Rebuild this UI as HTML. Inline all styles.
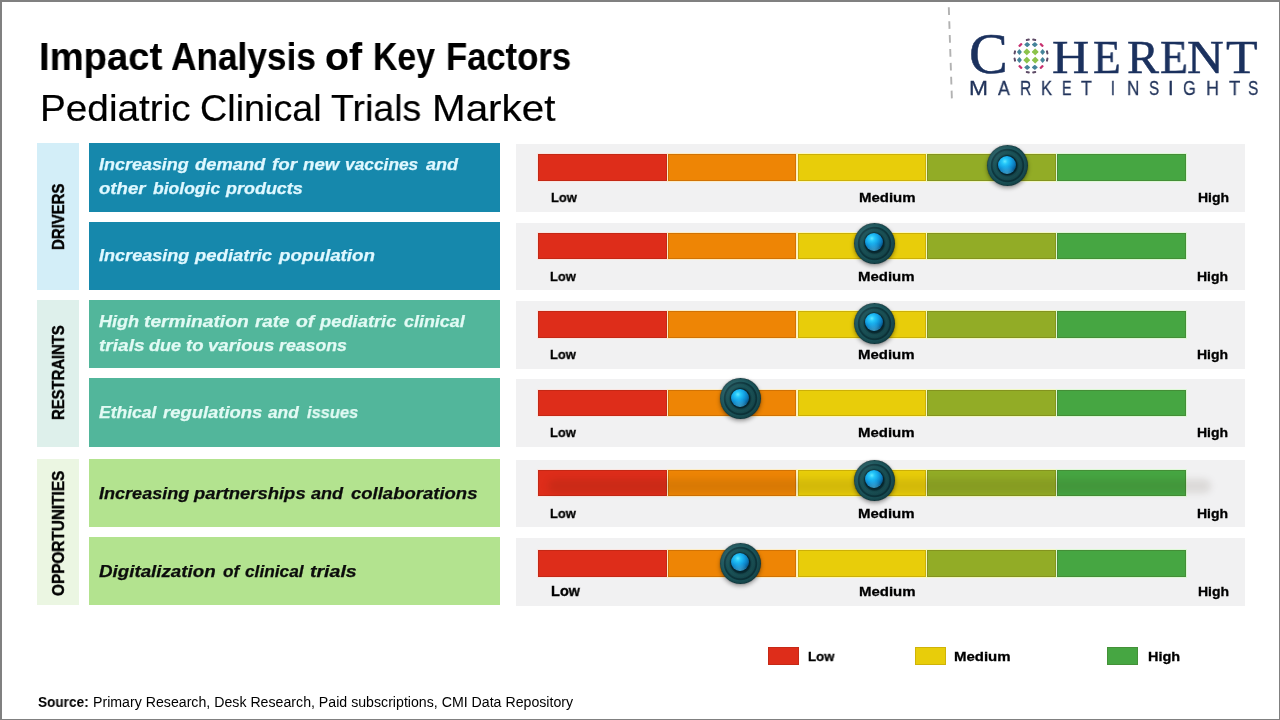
<!DOCTYPE html>
<html lang="en">
<head>
<meta charset="utf-8">
<title>Impact Analysis of Key Factors - Pediatric Clinical Trials Market</title>
<style>
html,body{margin:0;padding:0;}
body{width:1280px;height:720px;position:relative;overflow:hidden;background:#fff;font-family:"Liberation Sans",sans-serif;}
.frame{position:absolute;left:0;top:0;width:1280px;height:720px;box-sizing:border-box;border-style:solid;border-color:#808080;border-width:2px 1px 1px 2px;}
.b{position:absolute;}
.t{position:absolute;white-space:nowrap;line-height:1;transform-origin:0 0;will-change:transform;font-family:"Liberation Sans",sans-serif;}
.cat{position:absolute;left:37px;width:42px;}
.lab{position:absolute;left:89px;width:411px;}
.pan{position:absolute;left:516px;width:729px;background:#f1f1f2;}
.seg{position:absolute;box-shadow:inset 0 0 0 1px rgba(60,20,0,.16);}
.c1{background:#de2d1a;outline:1px solid #f9e6e2;}.c2{background:#ee8505;outline:1px solid #fcecc6;}.c3{background:#e8cd0a;outline:1px solid #fdfabd;}.c4{background:#92ac26;outline:1px solid #f1f8c4;}.c5{background:#46a642;outline:1px solid #def8d6;}
.band{position:absolute;left:548px;top:479px;width:663px;height:14px;border-radius:7px;background:rgba(40,20,0,.105);filter:blur(3.5px);}
.knob{position:absolute;width:41px;height:41px;border-radius:50%;
  background:
   linear-gradient(135deg, rgba(255,255,255,.12) 0%, rgba(255,255,255,0) 40%, rgba(0,0,0,.22) 100%),
   radial-gradient(circle closest-side at 50% 50%, #0b3037 0, #0b3037 46%, #174c52 52%, #1b5459 60%, #184e54 70%, #0d373e 75%, #0d373e 79%, #1c585e 84%, #184e54 94%, #0e343a 100%);
  box-shadow:0 2px 4px rgba(0,0,0,.38), 0 0 1px rgba(0,0,0,.5);}
.knob i{position:absolute;left:11.2px;top:10.6px;width:18px;height:18px;border-radius:50%;
  background:
   radial-gradient(circle 9px at 50% 105%, rgba(120,230,255,.5) 0, rgba(120,230,255,0) 100%),
   radial-gradient(circle 12px at 38% 30%, #62e8ff 0, #26c8fa 22%, #14a4e6 52%, #0c7ec0 80%, #085c92 100%);
  box-shadow:0 0 2px 0.5px rgba(0,25,35,.85);}
</style>
</head>
<body>
<div class="frame"></div>

<!-- category columns -->
<div class="cat" style="top:143px;height:147px;background:#d3eef8;"></div>
<div class="cat" style="top:300px;height:147px;background:#def0eb;"></div>
<div class="cat" style="top:459px;height:146px;background:#ebf6e2;"></div>

<!-- label boxes -->
<div class="lab" style="top:143px;height:69px;background:#1688ac;"></div>
<div class="lab" style="top:222px;height:68px;background:#1688ac;"></div>
<div class="lab" style="top:300px;height:68px;background:#52b69b;"></div>
<div class="lab" style="top:378px;height:69px;background:#52b69b;"></div>
<div class="lab" style="top:459px;height:68px;background:#b3e38f;"></div>
<div class="lab" style="top:537px;height:68px;background:#b3e38f;"></div>

<!-- gauge panels -->
<div class="pan" style="top:144px;height:68px;"></div>
<div class="seg c1" style="left:538px;width:129px;top:154px;height:27.0px;"></div>
<div class="seg c2" style="left:668px;width:128px;top:154px;height:27.0px;"></div>
<div class="seg c3" style="left:798px;width:128px;top:154px;height:27.0px;"></div>
<div class="seg c4" style="left:927px;width:129px;top:154px;height:27.0px;"></div>
<div class="seg c5" style="left:1057px;width:129px;top:154px;height:27.0px;"></div>
<div class="knob" style="left:986.7px;top:145.2px;"><i></i></div>
<div class="pan" style="top:223px;height:67px;"></div>
<div class="seg c1" style="left:538px;width:129px;top:233px;height:25.6px;"></div>
<div class="seg c2" style="left:668px;width:128px;top:233px;height:25.6px;"></div>
<div class="seg c3" style="left:798px;width:128px;top:233px;height:25.6px;"></div>
<div class="seg c4" style="left:927px;width:129px;top:233px;height:25.6px;"></div>
<div class="seg c5" style="left:1057px;width:129px;top:233px;height:25.6px;"></div>
<div class="knob" style="left:853.8px;top:222.6px;"><i></i></div>
<div class="pan" style="top:301px;height:68px;"></div>
<div class="seg c1" style="left:538px;width:129px;top:311px;height:26.6px;"></div>
<div class="seg c2" style="left:668px;width:128px;top:311px;height:26.6px;"></div>
<div class="seg c3" style="left:798px;width:128px;top:311px;height:26.6px;"></div>
<div class="seg c4" style="left:927px;width:129px;top:311px;height:26.6px;"></div>
<div class="seg c5" style="left:1057px;width:129px;top:311px;height:26.6px;"></div>
<div class="knob" style="left:853.9px;top:302.8px;"><i></i></div>
<div class="pan" style="top:379px;height:68px;"></div>
<div class="seg c1" style="left:538px;width:129px;top:390px;height:25.8px;"></div>
<div class="seg c2" style="left:668px;width:128px;top:390px;height:25.8px;"></div>
<div class="seg c3" style="left:798px;width:128px;top:390px;height:25.8px;"></div>
<div class="seg c4" style="left:927px;width:129px;top:390px;height:25.8px;"></div>
<div class="seg c5" style="left:1057px;width:129px;top:390px;height:25.8px;"></div>
<div class="knob" style="left:720.0px;top:378.3px;"><i></i></div>
<div class="pan" style="top:460px;height:67px;"></div>
<div class="seg c1" style="left:538px;width:129px;top:470px;height:25.6px;"></div>
<div class="seg c2" style="left:668px;width:128px;top:470px;height:25.6px;"></div>
<div class="seg c3" style="left:798px;width:128px;top:470px;height:25.6px;"></div>
<div class="seg c4" style="left:927px;width:129px;top:470px;height:25.6px;"></div>
<div class="seg c5" style="left:1057px;width:129px;top:470px;height:25.6px;"></div>
<div class="band"></div>
<div class="knob" style="left:853.9px;top:459.8px;"><i></i></div>
<div class="pan" style="top:538px;height:67.5px;"></div>
<div class="seg c1" style="left:538px;width:129px;top:550px;height:26.8px;"></div>
<div class="seg c2" style="left:668px;width:128px;top:550px;height:26.8px;"></div>
<div class="seg c3" style="left:798px;width:128px;top:550px;height:26.8px;"></div>
<div class="seg c4" style="left:927px;width:129px;top:550px;height:26.8px;"></div>
<div class="seg c5" style="left:1057px;width:129px;top:550px;height:26.8px;"></div>
<div class="knob" style="left:720.0px;top:542.5px;"><i></i></div>

<!-- legend -->
<div class="b" style="left:768px;top:647px;width:31px;height:18px;background:#de2d1a;box-shadow:inset 0 0 0 1px rgba(60,20,0,.14);"></div>
<div class="b" style="left:915px;top:647px;width:31px;height:18px;background:#e8cd0a;box-shadow:inset 0 0 0 1px rgba(60,20,0,.14);"></div>
<div class="b" style="left:1107px;top:647px;width:31px;height:18px;background:#46a642;box-shadow:inset 0 0 0 1px rgba(60,20,0,.14);"></div>

<!-- logo -->
<svg class="b" style="left:940px;top:0;" width="20" height="110"><line x1="8.8" y1="7.3" x2="11.9" y2="99.4" stroke="#b2b2b2" stroke-width="1.9" stroke-dasharray="7.7 6.2"/></svg>
<svg class="b" style="left:1010px;top:35px;" width="42" height="42" viewBox="-21 -21 42 42">
 <g id="globe">
  <g fill="#8cc34b">
   <rect x="-2.45" y="-2.45" width="4.9" height="4.9" rx=".5" transform="translate(-4.2,-4.1) rotate(45)"/>
   <rect x="-2.45" y="-2.45" width="4.9" height="4.9" rx=".5" transform="translate(4.2,-4.1) rotate(45)"/>
   <rect x="-2.45" y="-2.45" width="4.9" height="4.9" rx=".5" transform="translate(-4.2,4.1) rotate(45)"/>
   <rect x="-2.45" y="-2.45" width="4.9" height="4.9" rx=".5" transform="translate(4.2,4.1) rotate(45)"/>
  </g>
  <g fill="#45849a">
   <rect x="-2.15" y="-2.15" width="4.3" height="4.3" rx=".5" transform="translate(-11.6,-4) scale(.85,1) rotate(45)"/>
   <rect x="-2.15" y="-2.15" width="4.3" height="4.3" rx=".5" transform="translate(11.6,-4) scale(.85,1) rotate(45)"/>
   <rect x="-2.15" y="-2.15" width="4.3" height="4.3" rx=".5" transform="translate(-11.6,4) scale(.85,1) rotate(45)"/>
   <rect x="-2.15" y="-2.15" width="4.3" height="4.3" rx=".5" transform="translate(11.6,4) scale(.85,1) rotate(45)"/>
   <rect x="-2.15" y="-2.15" width="4.3" height="4.3" rx=".5" transform="translate(-3.8,-11.4) scale(1,.85) rotate(45)"/>
   <rect x="-2.15" y="-2.15" width="4.3" height="4.3" rx=".5" transform="translate(3.8,-11.4) scale(1,.85) rotate(45)"/>
   <rect x="-2.15" y="-2.15" width="4.3" height="4.3" rx=".5" transform="translate(-3.8,11.4) scale(1,.85) rotate(45)"/>
   <rect x="-2.15" y="-2.15" width="4.3" height="4.3" rx=".5" transform="translate(3.8,11.4) scale(1,.85) rotate(45)"/>
  </g>
  <g fill="#c8306e">
   <rect x="-2.2" y="-1.2" width="4.4" height="2.4" rx=".8" transform="translate(-10.6,-11) rotate(-45)"/>
   <rect x="-2.2" y="-1.2" width="4.4" height="2.4" rx=".8" transform="translate(10.6,-11) rotate(45)"/>
   <rect x="-2.2" y="-1.2" width="4.4" height="2.4" rx=".8" transform="translate(-10.6,11) rotate(45)"/>
   <rect x="-2.2" y="-1.2" width="4.4" height="2.4" rx=".8" transform="translate(10.6,11) rotate(-45)"/>
  </g>
  <g fill="#5d4a66">
   <rect x="-1" y="-2" width="2" height="4" rx=".8" transform="translate(-16.2,-3.6) rotate(12)"/>
   <rect x="-1" y="-2" width="2" height="4" rx=".8" transform="translate(16.2,-3.6) rotate(-12)"/>
   <rect x="-1" y="-2" width="2" height="4" rx=".8" transform="translate(-16.2,3.6) rotate(-12)"/>
   <rect x="-1" y="-2" width="2" height="4" rx=".8" transform="translate(16.2,3.6) rotate(12)"/>
   <rect x="-2" y="-1" width="4" height="2" rx=".8" transform="translate(-3.2,-16.2) rotate(-12)"/>
   <rect x="-2" y="-1" width="4" height="2" rx=".8" transform="translate(3.2,-16.2) rotate(12)"/>
   <rect x="-2" y="-1" width="4" height="2" rx=".8" transform="translate(-3.2,16.2) rotate(12)"/>
   <rect x="-2" y="-1" width="4" height="2" rx=".8" transform="translate(3.2,16.2) rotate(-12)"/>
  </g>
 </g>
</svg>


<span class="t " style="font-size:39.24px;color:#000;font-weight:700;-webkit-text-stroke:0.15px #000;left:38.67px;top:36.77px;transform:scaleX(0.9740);">Impact</span>
<span class="t " style="font-size:39.24px;color:#000;font-weight:700;-webkit-text-stroke:0.15px #000;left:170.94px;top:36.77px;transform:scaleX(0.8981);">Analysis</span>
<span class="t " style="font-size:39.24px;color:#000;font-weight:700;-webkit-text-stroke:0.15px #000;left:324.72px;top:36.77px;transform:scaleX(0.9886);">of</span>
<span class="t " style="font-size:39.24px;color:#000;font-weight:700;-webkit-text-stroke:0.15px #000;left:373.41px;top:36.77px;transform:scaleX(0.8609);">Key</span>
<span class="t " style="font-size:39.24px;color:#000;font-weight:700;-webkit-text-stroke:0.15px #000;left:445.64px;top:36.77px;transform:scaleX(0.8818);">Factors</span>
<span class="t " style="font-size:37.65px;color:#000;-webkit-text-stroke:0.2px #000;left:39.52px;top:90.13px;transform:scaleX(1.0287);">Pediatric</span>
<span class="t " style="font-size:37.65px;color:#000;-webkit-text-stroke:0.2px #000;left:199.89px;top:90.13px;transform:scaleX(1.0034);">Clinical</span>
<span class="t " style="font-size:37.65px;color:#000;-webkit-text-stroke:0.2px #000;left:331.41px;top:90.13px;transform:scaleX(0.9955);">Trials</span>
<span class="t " style="font-size:37.65px;color:#000;-webkit-text-stroke:0.2px #000;left:432.47px;top:90.13px;transform:scaleX(1.0732);">Market</span>
<span class="t " style="font-size:17.15px;color:#dff8ff;font-weight:700;font-style:italic;-webkit-text-stroke:0.25px #dff8ff;left:98.87px;top:155.88px;transform:scaleX(1.0471);">Increasing</span>
<span class="t " style="font-size:17.15px;color:#dff8ff;font-weight:700;font-style:italic;-webkit-text-stroke:0.25px #dff8ff;left:195.46px;top:155.88px;transform:scaleX(1.0698);">demand</span>
<span class="t " style="font-size:17.15px;color:#dff8ff;font-weight:700;font-style:italic;-webkit-text-stroke:0.25px #dff8ff;left:271.53px;top:155.88px;transform:scaleX(1.0963);">for</span>
<span class="t " style="font-size:17.15px;color:#dff8ff;font-weight:700;font-style:italic;-webkit-text-stroke:0.25px #dff8ff;left:302.99px;top:155.88px;transform:scaleX(1.0884);">new</span>
<span class="t " style="font-size:17.15px;color:#dff8ff;font-weight:700;font-style:italic;-webkit-text-stroke:0.25px #dff8ff;left:344.89px;top:155.88px;transform:scaleX(1.0113);">vaccines</span>
<span class="t " style="font-size:17.15px;color:#dff8ff;font-weight:700;font-style:italic;-webkit-text-stroke:0.25px #dff8ff;left:425.61px;top:155.88px;transform:scaleX(1.0517);">and</span>
<span class="t " style="font-size:17.15px;color:#dff8ff;font-weight:700;font-style:italic;-webkit-text-stroke:0.25px #dff8ff;left:99.38px;top:179.88px;transform:scaleX(1.0864);">other</span>
<span class="t " style="font-size:17.15px;color:#dff8ff;font-weight:700;font-style:italic;-webkit-text-stroke:0.25px #dff8ff;left:152.70px;top:179.88px;transform:scaleX(1.0217);">biologic</span>
<span class="t " style="font-size:17.15px;color:#dff8ff;font-weight:700;font-style:italic;-webkit-text-stroke:0.25px #dff8ff;left:225.57px;top:179.88px;transform:scaleX(1.0476);">products</span>
<span class="t " style="font-size:17.15px;color:#dff8ff;font-weight:700;font-style:italic;-webkit-text-stroke:0.25px #dff8ff;left:99.17px;top:246.68px;transform:scaleX(1.0541);">Increasing</span>
<span class="t " style="font-size:17.15px;color:#dff8ff;font-weight:700;font-style:italic;-webkit-text-stroke:0.25px #dff8ff;left:195.31px;top:246.68px;transform:scaleX(1.0789);">pediatric</span>
<span class="t " style="font-size:17.15px;color:#dff8ff;font-weight:700;font-style:italic;-webkit-text-stroke:0.25px #dff8ff;left:279.00px;top:246.68px;transform:scaleX(1.0966);">population</span>
<span class="t " style="font-size:17.15px;color:#e2faf4;font-weight:700;font-style:italic;-webkit-text-stroke:0.25px #e2faf4;left:98.86px;top:312.88px;transform:scaleX(1.0542);">High</span>
<span class="t " style="font-size:17.15px;color:#e2faf4;font-weight:700;font-style:italic;-webkit-text-stroke:0.25px #e2faf4;left:144.19px;top:312.88px;transform:scaleX(1.1217);">termination</span>
<span class="t " style="font-size:17.15px;color:#e2faf4;font-weight:700;font-style:italic;-webkit-text-stroke:0.25px #e2faf4;left:255.47px;top:312.88px;transform:scaleX(1.0957);">rate</span>
<span class="t " style="font-size:17.15px;color:#e2faf4;font-weight:700;font-style:italic;-webkit-text-stroke:0.25px #e2faf4;left:296.12px;top:312.88px;transform:scaleX(1.1294);">of</span>
<span class="t " style="font-size:17.15px;color:#e2faf4;font-weight:700;font-style:italic;-webkit-text-stroke:0.25px #e2faf4;left:320.22px;top:312.88px;transform:scaleX(1.0695);">pediatric</span>
<span class="t " style="font-size:17.15px;color:#e2faf4;font-weight:700;font-style:italic;-webkit-text-stroke:0.25px #e2faf4;left:403.56px;top:312.88px;transform:scaleX(1.0448);">clinical</span>
<span class="t " style="font-size:17.15px;color:#e2faf4;font-weight:700;font-style:italic;-webkit-text-stroke:0.25px #e2faf4;left:99.26px;top:336.88px;transform:scaleX(1.1129);">trials</span>
<span class="t " style="font-size:17.15px;color:#e2faf4;font-weight:700;font-style:italic;-webkit-text-stroke:0.25px #e2faf4;left:149.00px;top:336.88px;transform:scaleX(1.0467);">due</span>
<span class="t " style="font-size:17.15px;color:#e2faf4;font-weight:700;font-style:italic;-webkit-text-stroke:0.25px #e2faf4;left:185.81px;top:336.88px;transform:scaleX(1.0816);">to</span>
<span class="t " style="font-size:17.15px;color:#e2faf4;font-weight:700;font-style:italic;-webkit-text-stroke:0.25px #e2faf4;left:208.22px;top:336.88px;transform:scaleX(1.0883);">various</span>
<span class="t " style="font-size:17.15px;color:#e2faf4;font-weight:700;font-style:italic;-webkit-text-stroke:0.25px #e2faf4;left:279.39px;top:336.88px;transform:scaleX(1.0339);">reasons</span>
<span class="t " style="font-size:17.15px;color:#e2faf4;font-weight:700;font-style:italic;-webkit-text-stroke:0.25px #e2faf4;left:99.18px;top:403.88px;transform:scaleX(1.0215);">Ethical</span>
<span class="t " style="font-size:17.15px;color:#e2faf4;font-weight:700;font-style:italic;-webkit-text-stroke:0.25px #e2faf4;left:163.46px;top:403.88px;transform:scaleX(1.0749);">regulations</span>
<span class="t " style="font-size:17.15px;color:#e2faf4;font-weight:700;font-style:italic;-webkit-text-stroke:0.25px #e2faf4;left:268.47px;top:403.88px;transform:scaleX(1.0086);">and</span>
<span class="t " style="font-size:17.15px;color:#e2faf4;font-weight:700;font-style:italic;-webkit-text-stroke:0.25px #e2faf4;left:306.92px;top:403.88px;transform:scaleX(0.9619);">issues</span>
<span class="t " style="font-size:17.15px;color:#0c0c0c;font-weight:700;font-style:italic;-webkit-text-stroke:0.25px #0c0c0c;left:99.31px;top:485.08px;transform:scaleX(1.0536);">Increasing</span>
<span class="t " style="font-size:17.15px;color:#0c0c0c;font-weight:700;font-style:italic;-webkit-text-stroke:0.25px #0c0c0c;left:194.44px;top:485.08px;transform:scaleX(1.0752);">partnerships</span>
<span class="t " style="font-size:17.15px;color:#0c0c0c;font-weight:700;font-style:italic;-webkit-text-stroke:0.25px #0c0c0c;left:311.45px;top:485.08px;transform:scaleX(1.0547);">and</span>
<span class="t " style="font-size:17.15px;color:#0c0c0c;font-weight:700;font-style:italic;-webkit-text-stroke:0.25px #0c0c0c;left:350.53px;top:485.08px;transform:scaleX(1.0793);">collaborations</span>
<span class="t " style="font-size:17.15px;color:#0c0c0c;font-weight:700;font-style:italic;-webkit-text-stroke:0.25px #0c0c0c;left:99.14px;top:563.08px;transform:scaleX(1.0935);">Digitalization</span>
<span class="t " style="font-size:17.15px;color:#0c0c0c;font-weight:700;font-style:italic;-webkit-text-stroke:0.25px #0c0c0c;left:222.77px;top:563.08px;transform:scaleX(1.0031);">of</span>
<span class="t " style="font-size:17.15px;color:#0c0c0c;font-weight:700;font-style:italic;-webkit-text-stroke:0.25px #0c0c0c;left:245.19px;top:563.08px;transform:scaleX(1.0071);">clinical</span>
<span class="t " style="font-size:17.15px;color:#0c0c0c;font-weight:700;font-style:italic;-webkit-text-stroke:0.25px #0c0c0c;left:309.74px;top:563.08px;transform:scaleX(1.1404);">trials</span>
<span class="t " style="font-size:13.52px;color:#000;font-weight:700;-webkit-text-stroke:0.3px #000;left:551.39px;top:191.05px;transform:scaleX(0.9558);">Low</span>
<span class="t " style="font-size:13.52px;color:#000;font-weight:700;-webkit-text-stroke:0.3px #000;left:859.37px;top:191.05px;transform:scaleX(1.1080);">Medium</span>
<span class="t " style="font-size:13.52px;color:#000;font-weight:700;-webkit-text-stroke:0.3px #000;left:1197.58px;top:191.05px;transform:scaleX(1.0348);">High</span>
<span class="t " style="font-size:13.52px;color:#000;font-weight:700;-webkit-text-stroke:0.3px #000;left:550.39px;top:270.15px;transform:scaleX(0.9558);">Low</span>
<span class="t " style="font-size:13.52px;color:#000;font-weight:700;-webkit-text-stroke:0.3px #000;left:858.37px;top:270.15px;transform:scaleX(1.1080);">Medium</span>
<span class="t " style="font-size:13.52px;color:#000;font-weight:700;-webkit-text-stroke:0.3px #000;left:1196.58px;top:270.15px;transform:scaleX(1.0348);">High</span>
<span class="t " style="font-size:13.52px;color:#000;font-weight:700;-webkit-text-stroke:0.3px #000;left:550.39px;top:348.15px;transform:scaleX(0.9558);">Low</span>
<span class="t " style="font-size:13.52px;color:#000;font-weight:700;-webkit-text-stroke:0.3px #000;left:858.37px;top:348.15px;transform:scaleX(1.1080);">Medium</span>
<span class="t " style="font-size:13.52px;color:#000;font-weight:700;-webkit-text-stroke:0.3px #000;left:1196.58px;top:348.15px;transform:scaleX(1.0348);">High</span>
<span class="t " style="font-size:13.52px;color:#000;font-weight:700;-webkit-text-stroke:0.3px #000;left:550.39px;top:426.35px;transform:scaleX(0.9558);">Low</span>
<span class="t " style="font-size:13.52px;color:#000;font-weight:700;-webkit-text-stroke:0.3px #000;left:858.37px;top:426.35px;transform:scaleX(1.1080);">Medium</span>
<span class="t " style="font-size:13.52px;color:#000;font-weight:700;-webkit-text-stroke:0.3px #000;left:1196.58px;top:426.35px;transform:scaleX(1.0348);">High</span>
<span class="t " style="font-size:13.52px;color:#000;font-weight:700;-webkit-text-stroke:0.3px #000;left:550.39px;top:507.05px;transform:scaleX(0.9558);">Low</span>
<span class="t " style="font-size:13.52px;color:#000;font-weight:700;-webkit-text-stroke:0.3px #000;left:858.37px;top:507.05px;transform:scaleX(1.1080);">Medium</span>
<span class="t " style="font-size:13.52px;color:#000;font-weight:700;-webkit-text-stroke:0.3px #000;left:1196.58px;top:507.05px;transform:scaleX(1.0348);">High</span>
<span class="t " style="font-size:14.54px;color:#000;font-weight:700;-webkit-text-stroke:0.3px #000;left:551.41px;top:583.99px;transform:scaleX(0.9931);">Low</span>
<span class="t " style="font-size:13.52px;color:#000;font-weight:700;-webkit-text-stroke:0.3px #000;left:859.37px;top:584.85px;transform:scaleX(1.1080);">Medium</span>
<span class="t " style="font-size:13.52px;color:#000;font-weight:700;-webkit-text-stroke:0.3px #000;left:1197.58px;top:584.85px;transform:scaleX(1.0348);">High</span>
<span class="t " style="font-size:13.52px;color:#000;font-weight:700;-webkit-text-stroke:0.3px #000;left:807.94px;top:650.35px;transform:scaleX(0.9778);">Low</span>
<span class="t " style="font-size:13.52px;color:#000;font-weight:700;-webkit-text-stroke:0.3px #000;left:954.44px;top:650.35px;transform:scaleX(1.1082);">Medium</span>
<span class="t " style="font-size:13.52px;color:#000;font-weight:700;-webkit-text-stroke:0.3px #000;left:1147.55px;top:650.35px;transform:scaleX(1.0702);">High</span>
<span class="t " style="font-size:13.95px;color:#000;font-weight:700;left:38.21px;top:695.59px;transform:scaleX(0.9761);">Source:</span>
<span class="t " style="font-size:13.95px;color:#000;left:92.59px;top:695.59px;transform:scaleX(1.0161);">Primary Research, Desk Research, Paid subscriptions, CMI Data Repository</span>
<span class="t " style="font-size:16.57px;color:#000;font-weight:700;-webkit-text-stroke:0.45px #000;left:51.37px;top:249.90px;transform:rotate(-90deg) scaleX(0.9028);">DRIVERS</span>
<span class="t " style="font-size:16.57px;color:#000;font-weight:700;-webkit-text-stroke:0.45px #000;left:51.37px;top:420.45px;transform:rotate(-90deg) scaleX(0.8953);">RESTRAINTS</span>
<span class="t " style="font-size:16.57px;color:#000;font-weight:700;-webkit-text-stroke:0.45px #000;left:51.37px;top:595.54px;transform:rotate(-90deg) scaleX(0.9259);">OPPORTUNITIES</span>
<span class="t " style="font-size:56.51px;color:#1b315e;font-family:'Liberation Serif', serif;-webkit-text-stroke:0.5px #1b315e;left:968.94px;top:25.68px;transform:scaleX(1.0303);">C</span>
<span class="t " style="font-size:47.34px;color:#1b315e;font-family:'Liberation Serif', serif;-webkit-text-stroke:0.5px #1b315e;left:1051.53px;top:33.95px;transform:scaleX(1.0875);">H</span>
<span class="t " style="font-size:47.34px;color:#1b315e;font-family:'Liberation Serif', serif;-webkit-text-stroke:0.5px #1b315e;left:1093.45px;top:33.95px;transform:scaleX(0.9580);">E</span>
<span class="t " style="font-size:47.34px;color:#1b315e;font-family:'Liberation Serif', serif;-webkit-text-stroke:0.5px #1b315e;left:1126.59px;top:33.95px;transform:scaleX(1.0129);">R</span>
<span class="t " style="font-size:47.34px;color:#1b315e;font-family:'Liberation Serif', serif;-webkit-text-stroke:0.5px #1b315e;left:1159.54px;top:33.95px;transform:scaleX(0.9683);">E</span>
<span class="t " style="font-size:47.34px;color:#1b315e;font-family:'Liberation Serif', serif;-webkit-text-stroke:0.5px #1b315e;left:1186.99px;top:33.95px;transform:scaleX(1.0756);">N</span>
<span class="t " style="font-size:47.34px;color:#1b315e;font-family:'Liberation Serif', serif;-webkit-text-stroke:0.5px #1b315e;left:1226.44px;top:33.95px;transform:scaleX(1.0936);">T</span>
<span class="t " style="font-size:20.20px;color:#22345b;-webkit-text-stroke:0.3px #22345b;left:969.19px;top:78.49px;transform:scaleX(1.1286);">M</span>
<span class="t " style="font-size:20.20px;color:#22345b;-webkit-text-stroke:0.3px #22345b;left:998.26px;top:78.49px;transform:scaleX(0.8775);">A</span>
<span class="t " style="font-size:20.20px;color:#22345b;-webkit-text-stroke:0.3px #22345b;left:1020.13px;top:78.49px;transform:scaleX(0.7760);">R</span>
<span class="t " style="font-size:20.20px;color:#22345b;-webkit-text-stroke:0.3px #22345b;left:1041.04px;top:78.49px;transform:scaleX(0.8181);">K</span>
<span class="t " style="font-size:20.20px;color:#22345b;-webkit-text-stroke:0.3px #22345b;left:1062.12px;top:78.49px;transform:scaleX(0.7092);">E</span>
<span class="t " style="font-size:20.20px;color:#22345b;-webkit-text-stroke:0.3px #22345b;left:1081.00px;top:78.49px;transform:scaleX(0.8836);">T</span>
<span class="t " style="font-size:20.20px;color:#22345b;-webkit-text-stroke:0.3px #22345b;left:1111.27px;top:78.49px;transform:scaleX(0.6667);">I</span>
<span class="t " style="font-size:20.20px;color:#22345b;-webkit-text-stroke:0.3px #22345b;left:1126.70px;top:78.49px;transform:scaleX(0.8512);">N</span>
<span class="t " style="font-size:20.20px;color:#22345b;-webkit-text-stroke:0.3px #22345b;left:1148.89px;top:78.49px;transform:scaleX(0.7526);">S</span>
<span class="t " style="font-size:20.20px;color:#22345b;-webkit-text-stroke:0.3px #22345b;left:1168.30px;top:78.49px;transform:scaleX(1.0000);">I</span>
<span class="t " style="font-size:20.20px;color:#22345b;-webkit-text-stroke:0.3px #22345b;left:1183.19px;top:78.49px;transform:scaleX(0.8113);">G</span>
<span class="t " style="font-size:20.20px;color:#22345b;-webkit-text-stroke:0.3px #22345b;left:1206.38px;top:78.49px;transform:scaleX(0.8927);">H</span>
<span class="t " style="font-size:20.20px;color:#22345b;-webkit-text-stroke:0.3px #22345b;left:1229.00px;top:78.49px;transform:scaleX(0.9167);">T</span>
<span class="t " style="font-size:20.20px;color:#22345b;-webkit-text-stroke:0.3px #22345b;left:1248.23px;top:78.49px;transform:scaleX(0.7668);">S</span>
</body>
</html>
